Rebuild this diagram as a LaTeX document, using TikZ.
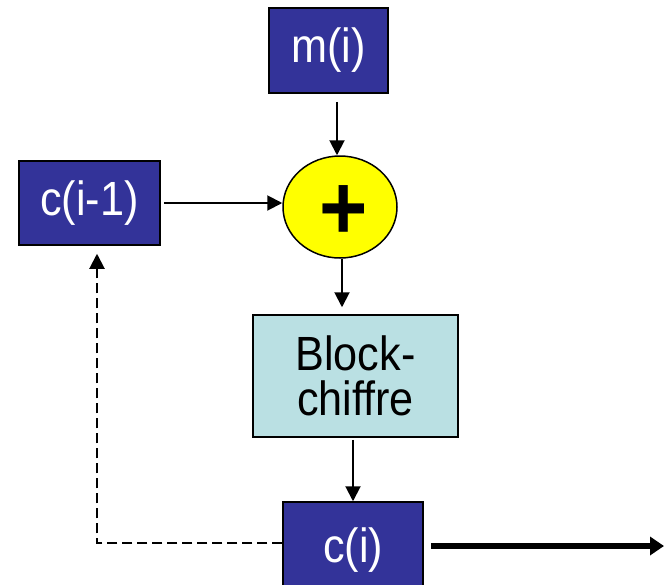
\documentclass[tikz,border=0pt]{standalone}
\usepackage{fontspec}
\setmainfont[FakeStretch=0.9]{Liberation Sans}
\usetikzlibrary{arrows.meta,shapes.geometric,calc}
\definecolor{boxblue}{HTML}{333399}
\definecolor{boxcyan}{HTML}{BAE0E3}
\definecolor{plusyellow}{HTML}{FFFF00}
\tikzset{
  bluebox/.style={draw=black, line width=1.5pt, fill=boxblue, text=white, inner sep=0pt,
    font=\fontsize{48}{45}\selectfont},
  cyanbox/.style={draw=black, line width=1.5pt, fill=boxcyan, text=black, inner sep=0pt,
    align=center, font=\fontsize{48}{45}\selectfont},
  xorellipse/.style={ellipse, draw=black, line width=1.5pt, fill=plusyellow, inner sep=0pt},
  arr/.style={line width=2pt, -{Triangle[length=15pt,width=15pt]}},
  dasharr/.style={line width=2pt, dash pattern=on 10pt off 5pt, -{Triangle[length=15pt,width=15pt]}},
  thickarr/.style={line width=6pt, -{Triangle[length=14pt,width=18pt]}}
}
\begin{document}
\begin{tikzpicture}[x=1pt,y=-1pt]
\useasboundingbox (0,0) rectangle (664,584);
\begin{scope}
\clip (0,0) rectangle (664,584);
\node[bluebox, minimum width=119pt, minimum height=85pt] (m) at (328.5,50.5) {m(i)};
\node[bluebox, minimum width=141pt, minimum height=84pt] (c1) at (89.5,203) {c(i-1)};
\node[xorellipse, minimum width=114pt, minimum height=102pt] (e) at (340,207) {};
\node[anchor=base, font=\fontsize{92}{92}\selectfont\bfseries] (plus) at (344,239) {+};
\node[cyanbox, minimum width=205pt, minimum height=122pt] (blk) at (355.5,376) {Block-\\chiffre};
\node[bluebox, minimum width=140pt, minimum height=96pt] (ci) at (353,550) {c(i)};
\end{scope}
\coordinate (mstart) at ($(m.south)+(8.5,8)$);
\draw[arr] (mstart) -- (mstart |- e.north);
\draw[arr] ($(c1.east)+(3,0)$) -- (c1.east -| e.west);
\coordinate (estart) at ($(e.south)+(2,0)$);
\draw[arr] (estart) -- ($(estart |- blk.north)+(0,-7)$);
\coordinate (bstart) at ($(blk.south)+(-2.5,2)$);
\draw[arr] (bstart) -- (bstart |- ci.north);
\coordinate (dcorner) at (97,543);
\draw[dasharr] (ci.west |- dcorner) -- (dcorner) -- ($(dcorner |- c1.south)+(0,8)$);
\coordinate (outend) at (664,546);
\draw[thickarr] ($(ci.east |- outend)+(7,0)$) -- (outend);
\end{tikzpicture}
\end{document}
